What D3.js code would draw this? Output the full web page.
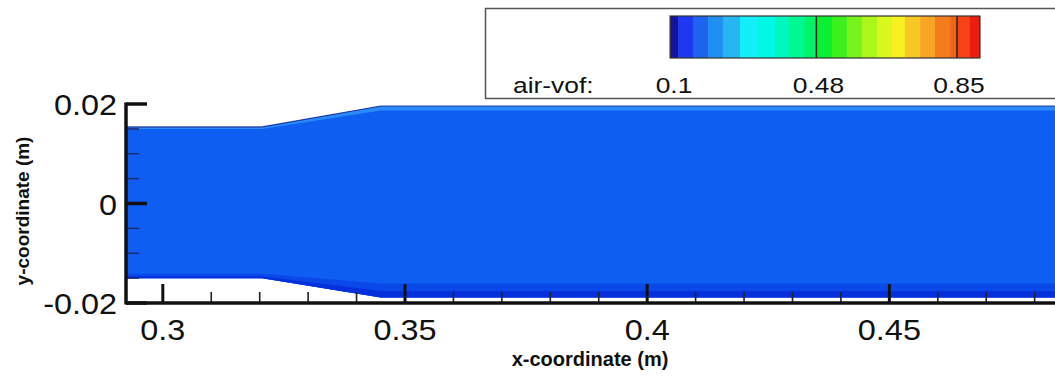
<!DOCTYPE html>
<html>
<head>
<meta charset="utf-8">
<script src="https://cdn.jsdelivr.net/npm/d3@7/dist/d3.min.js"></script>
<style>
  html, body { margin: 0; padding: 0; background: #fff; }
  svg { display: block; }
  text { font-family: "Liberation Sans", Arial, sans-serif; fill: #111; }
</style>
</head>
<body>
<svg id="chart" width="1055" height="376"></svg>
<script>
// ---------- data ----------
const xDomain = [0.2924, 0.4843];
const yDomain = [-0.02, 0.02];
const xTicksMajor = [0.3, 0.35, 0.4, 0.45];
const xTickLabels = ["0.3", "0.35", "0.4", "0.45"];
const xTicksMinor = [0.31, 0.32, 0.33, 0.34, 0.36, 0.37, 0.38, 0.39, 0.41, 0.42, 0.43, 0.44, 0.46, 0.47, 0.48];
const yTicksMajor = [0.02, 0, -0.02];
const yTickLabels = ["0.02", "0", "-0.02"];
const yTicksMinor = [0.015, 0.01, 0.005, -0.005, -0.01, -0.015];

// channel walls (x, upper wall y, lower wall y)
const wallX   = [0.2924, 0.3205, 0.345, 0.4843];
const wallTop = [0.0154, 0.0154, 0.0196, 0.0196];
const wallBot = [-0.0150, -0.0150, -0.0189, -0.0189];
// thickness of the thin air layers along the walls
const topLayer = [0.0004, 0.0004, 0.0009, 0.0009];
const botLayerOuter = [0.0009, 0.0009, 0.0028, 0.0028];
const botLayerInner = [0.0004, 0.0004, 0.0013, 0.0013];

// colour legend
const legendTitle = "air-vof:";
const cbBreaks = [0.095, 0.116, 0.155, 0.195, 0.234, 0.279, 0.326, 0.371, 0.41, 0.45, 0.482,
                  0.521, 0.56, 0.60, 0.64, 0.679, 0.713, 0.753, 0.792, 0.832, 0.85, 0.884, 0.91];
const cbColors = ["#12149c", "#1e38f0", "#1e62f0", "#208ef2", "#26b6f4", "#14eef8", "#00f8e4",
                  "#00f8bc", "#00f890", "#00f464", "#08f030", "#3cf020", "#74f41c", "#acf61c",
                  "#d8f820", "#f8f020", "#f8c824", "#f8a424", "#f47c1c", "#f06414", "#f44416", "#ec1c10"];
const cbTicks = [0.1, 0.48, 0.85];
const cbTickLabels = ["0.1", "0.48", "0.85"];
const cbLines = [0.48, 0.85];

// fluid colours (from the colour map)
const fluidMain = "#0e5ef2";
const fluidTopLayer = "#2a8af6";
const fluidBotOuter = "#0a48ea";
const fluidBotInner = "#0630dc";

// ---------- layout ----------
const svg = d3.select("#chart");
const plotLeft = 126, plotRight = 1055 + 0.5;
const x = d3.scaleLinear().domain(xDomain).range([plotLeft, plotRight]);
const y = d3.scaleLinear().domain(yDomain).range([303, 104]);

// ---------- fluid ----------
const area = d3.area().x(d => x(d[0])).y0(d => y(d[1])).y1(d => y(d[2]));
const pts = (lo, hi) => wallX.map((wx, i) => [wx, lo(i), hi(i)]);

svg.append("path").attr("d", area(pts(i => wallBot[i], i => wallTop[i])))
  .attr("fill", fluidMain);
svg.append("path").attr("d", area(pts(i => wallTop[i] - topLayer[i], i => wallTop[i])))
  .attr("fill", fluidTopLayer);
svg.append("path").attr("d", area(pts(i => wallBot[i], i => wallBot[i] + botLayerOuter[i])))
  .attr("fill", fluidBotOuter);
svg.append("path").attr("d", area(pts(i => wallBot[i], i => wallBot[i] + botLayerInner[i])))
  .attr("fill", fluidBotInner);
// upper wall edge line
svg.append("path")
  .attr("d", d3.line().x(d => x(d[0])).y(d => y(d[1]))(wallX.map((wx, i) => [wx, wallTop[i]])))
  .attr("fill", "none").attr("stroke", "#0a1e8c").attr("stroke-width", 1.2).attr("opacity", 0.8);

// ---------- axes ----------
const ax = svg.append("g");
// minor ticks
ax.selectAll(".xmin").data(xTicksMinor).join("line")
  .attr("x1", d => x(d)).attr("x2", d => x(d))
  .attr("y1", y(-0.02)).attr("y2", y(-0.02) - 11)
  .attr("stroke", "#222").attr("stroke-width", 1.6);
ax.selectAll(".ymin").data(yTicksMinor).join("line")
  .attr("x1", plotLeft).attr("x2", plotLeft + 13)
  .attr("y1", d => y(d)).attr("y2", d => y(d))
  .attr("stroke", "#1a2a70").attr("stroke-width", 1.4);
// major ticks
ax.selectAll(".xmaj").data(xTicksMajor).join("line")
  .attr("x1", d => x(d)).attr("x2", d => x(d))
  .attr("y1", y(-0.02)).attr("y2", y(-0.02) - 19)
  .attr("stroke", "#111").attr("stroke-width", 3);
ax.selectAll(".ymaj").data(yTicksMajor).join("line")
  .attr("x1", plotLeft).attr("x2", plotLeft + 21)
  .attr("y1", d => y(d)).attr("y2", d => y(d))
  .attr("stroke", "#111").attr("stroke-width", 3.5);
// axis lines
ax.append("line").attr("x1", plotLeft).attr("x2", plotRight)
  .attr("y1", y(-0.02)).attr("y2", y(-0.02))
  .attr("stroke", "#111").attr("stroke-width", 3.5);
ax.append("line").attr("x1", plotLeft).attr("x2", plotLeft)
  .attr("y1", y(0.02) - 1.5).attr("y2", y(-0.02) + 1.5)
  .attr("stroke", "#111").attr("stroke-width", 3.5);

// tick labels
const stretch = (sel, sx) => sel.attr("transform", function() {
  const t = d3.select(this);
  return `translate(${t.attr("data-x")},${t.attr("data-y")}) scale(${sx},1)`;
});
svg.selectAll(".xl").data(xTicksMajor).join("text")
  .attr("data-x", d => x(d)).attr("data-y", 340)
  .attr("text-anchor", "middle").attr("font-size", 30)
  .text((d, i) => xTickLabels[i]).call(stretch, 1.08);
svg.selectAll(".yl").data(yTicksMajor).join("text")
  .attr("data-x", 117).attr("data-y", d => y(d) + 11)
  .attr("text-anchor", "end").attr("font-size", 30)
  .text((d, i) => yTickLabels[i]).call(stretch, 1.08);

// axis titles
svg.append("text").attr("data-x", 590).attr("data-y", 366)
  .attr("text-anchor", "middle").attr("font-size", 20).attr("font-weight", "bold")
  .text("x-coordinate (m)").call(stretch, 1.0);
svg.append("text")
  .attr("transform", `translate(29,211) rotate(-90)`)
  .attr("text-anchor", "middle").attr("font-size", 19).attr("font-weight", "bold")
  .text("y-coordinate  (m)");

// ---------- legend ----------
const lg = svg.append("g");
lg.append("rect").attr("x", 485.5).attr("y", 8.5).attr("width", 600).attr("height", 90)
  .attr("fill", "#fff").attr("stroke", "#555").attr("stroke-width", 1.5);
const cb = d3.scaleLinear().domain([0.1, 0.85]).range([672, 957]);
const bands = cbColors.map((c, i) => ({ c, a: cbBreaks[i], b: cbBreaks[i + 1] }));
lg.selectAll(".band").data(bands).join("rect")
  .attr("x", d => cb(d.a)).attr("width", d => cb(d.b) - cb(d.a) + 0.5)
  .attr("y", 16).attr("height", 42).attr("fill", d => d.c);
lg.selectAll(".cbl").data(cbLines).join("line")
  .attr("x1", d => cb(d)).attr("x2", d => cb(d)).attr("y1", 16).attr("y2", 58)
  .attr("stroke", "#222").attr("stroke-width", 1.5);
lg.append("rect").attr("x", cb(cbBreaks[0])).attr("y", 16)
  .attr("width", cb(cbBreaks[cbBreaks.length - 1]) - cb(cbBreaks[0])).attr("height", 42)
  .attr("fill", "none").attr("stroke", "#333").attr("stroke-width", 1.2);
lg.selectAll(".cbt").data(cbTicks).join("text")
  .attr("data-x", d => cb(d) + 2).attr("data-y", 93)
  .attr("text-anchor", "middle").attr("font-size", 22)
  .text((d, i) => cbTickLabels[i]).call(stretch, 1.2);
lg.append("text").attr("data-x", 513).attr("data-y", 93)
  .attr("font-size", 22).text(legendTitle).call(stretch, 1.2);
</script>
</body>
</html>
